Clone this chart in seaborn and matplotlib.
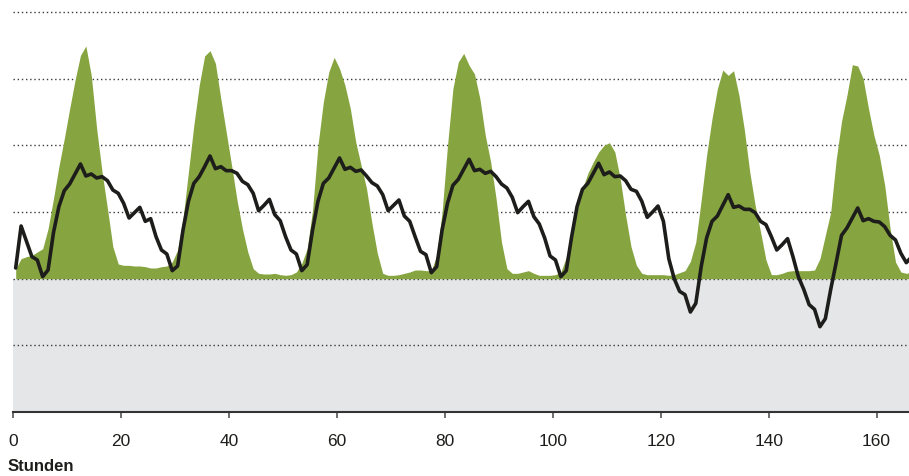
import numpy as np
import pandas as pd
import matplotlib
matplotlib.use("Agg")
import matplotlib.pyplot as plt
import seaborn as sns

# hourly values, plotted at mid-hour
stunden = np.arange(167) + 0.5

gruen = [
    1.5, 3.0, 3.3, 3.5, 4.0, 4.5, 7.5, 12.0, 16.8, 21.0,
    25.5, 29.8, 33.5, 34.9, 30.5, 22.5, 16.0, 10.5, 4.8, 2.2,
    2.0, 2.0, 1.9, 1.9, 1.8, 1.6, 1.6, 1.8, 1.9, 2.5,
    4.3, 9.0, 16.0, 23.0, 29.0, 33.4, 34.2, 32.3, 27.0, 22.0,
    17.0, 11.8, 7.5, 4.0, 1.5, 0.8, 0.7, 0.7, 0.8, 0.6,
    0.5, 0.6, 1.0, 2.3, 4.5, 10.3, 20.0, 26.5, 31.0, 33.2,
    31.5, 29.0, 25.5, 20.5, 17.0, 13.5, 8.3, 3.8, 0.8, 0.5,
    0.5, 0.6, 0.8, 1.0, 1.3, 1.3, 1.2, 1.2, 3.5, 10.0,
    20.0, 28.5, 32.5, 33.8, 32.0, 30.7, 27.0, 21.5, 17.5, 12.0,
    5.5, 1.5, 0.8, 0.8, 1.0, 1.2, 0.8, 0.5, 0.5, 0.5,
    0.6, 1.0, 3.2, 6.5, 10.3, 13.5, 15.8, 17.5, 19.0, 20.0,
    20.4, 19.0, 15.0, 9.5, 4.8, 2.0, 0.8, 0.6, 0.6, 0.6,
    0.6, 0.5, 0.6, 0.9, 1.2, 2.6, 5.5, 11.8, 18.5, 24.0,
    28.5, 31.3, 30.5, 31.2, 27.5, 22.3, 16.0, 11.0, 7.0, 2.8,
    0.6, 0.6, 0.8, 1.1, 1.2, 1.2, 1.2, 1.2, 1.3, 3.0,
    6.5, 10.0, 17.8, 23.6, 27.5, 32.1, 31.9, 30.0, 25.5, 21.5,
    18.5, 14.0, 7.5, 2.5, 1.0, 0.8, 1.0,
]

linie = [
    1.6, 7.9, 5.6, 3.3, 2.8, 0.3, 1.3, 6.9, 10.8, 13.2,
    14.2, 15.7, 17.2, 15.4, 15.7, 15.1, 15.3, 14.7, 13.3, 12.8,
    11.3, 9.1, 9.9, 10.7, 8.6, 9.0, 6.3, 4.3, 3.7, 1.2,
    1.9, 7.3, 11.6, 14.3, 15.3, 16.8, 18.4, 16.5, 16.8, 16.2,
    16.2, 15.8, 14.6, 14.1, 12.8, 10.2, 11.0, 11.9, 9.6, 8.7,
    6.3, 4.3, 3.7, 1.2, 2.1, 7.3, 11.6, 14.3, 15.1, 16.6,
    18.1, 16.4, 16.7, 16.1, 16.3, 15.4, 14.4, 13.9, 12.6, 10.2,
    11.0, 11.8, 9.4, 8.6, 6.3, 4.1, 3.6, 0.9, 1.8, 7.3,
    11.3, 14.0, 14.9, 16.4, 17.9, 16.2, 16.4, 15.8, 16.1, 15.3,
    14.2, 13.6, 12.2, 9.9, 10.8, 11.6, 9.3, 8.2, 6.1, 3.4,
    2.8, 0.3, 1.2, 6.3, 10.8, 13.4, 14.3, 15.8, 17.3, 15.6,
    16.0, 15.3, 15.4, 14.7, 13.4, 13.1, 11.6, 9.2, 10.0, 10.9,
    8.6, 3.0, 0.0, -1.9, -2.4, -5.0, -3.7, 1.8, 6.1, 8.6,
    9.4, 11.0, 12.6, 10.7, 10.9, 10.4, 10.4, 9.9, 8.6, 8.1,
    6.3, 4.3, 5.1, 6.0, 3.3, 0.3, -1.6, -3.9, -4.6, -7.2,
    -6.0, -1.6, 2.4, 6.5, 7.6, 9.1, 10.6, 8.7, 9.0, 8.6,
    8.5, 7.8, 6.5, 5.8, 3.8, 2.4, 3.3,
]

x_ticks = [0, 20, 40, 60, 80, 100, 120, 140, 160]
grid_levels = [-10, 0, 10, 20, 30, 40]

df = pd.DataFrame({"Stunden": stunden, "gruen": gruen, "linie": linie})

sns.set_theme(style="white")
plt.rcParams["font.family"] = ["Liberation Sans", "DejaVu Sans"]

fig = plt.figure(figsize=(9.09, 4.76), dpi=100)
ax = fig.add_axes([13 / 909, 1 - 412 / 476, 1 - 13 / 909, 412 / 476])

ax.axhspan(-20, 0, color="#e5e6e8", lw=0, zorder=0)
for lvl in grid_levels:
    ax.axhline(lvl, color="#3a3a3a", lw=1.0, ls=(0, (1, 2)), zorder=1)

ax.fill_between(df["Stunden"], 0, df["gruen"], color="#86a540", lw=0, zorder=2)
sns.lineplot(data=df, x="Stunden", y="linie", color="#1d1d1b", lw=2.6, ax=ax, zorder=3)

ax.set_xlim(0, 166)
ax.set_ylim(-20, 41.8)
ax.set_xticks(x_ticks)
ax.set_yticks([])
ax.set_xlabel("")
ax.set_ylabel("")

for side in ["top", "right", "left"]:
    ax.spines[side].set_visible(False)
ax.spines["bottom"].set_color("#333333")
ax.spines["bottom"].set_linewidth(1.5)
ax.tick_params(axis="x", direction="out", length=4, width=1.2, color="#555555",
               labelsize=12.5, labelcolor="#1d1d1b", pad=12, bottom=True)

fig.text(8 / 909, 1 - 471 / 476, "Stunden", fontsize=12, fontweight="bold",
         color="#1d1d1b", ha="left", va="baseline")

fig.savefig("out.png", dpi=100)
